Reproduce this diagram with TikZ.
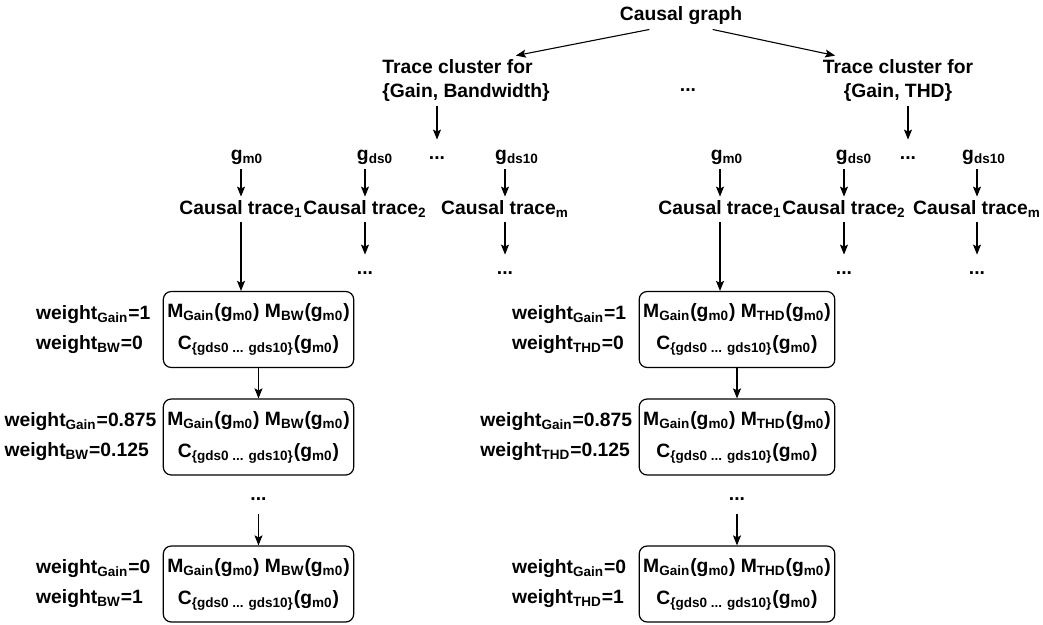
\documentclass[tikz,border=0pt]{standalone}
\usepackage{fontspec}
\setmainfont{Liberation Sans}
\usetikzlibrary{arrows.meta,positioning}
\newcommand{\idx}[1]{\textsubscript{#1}}

\begin{document}
\begin{tikzpicture}[x=0.5pt,y=-0.5pt,
  every node/.style={font=\fontsize{9.65}{12}\selectfont\bfseries, inner sep=2pt},
  lbl/.style={anchor=base},
  more/.style={anchor=base, text height=8pt, text depth=5pt},
  cbox/.style={draw, line width=0.6pt, rounded corners=4pt, minimum width=92.5pt,
    minimum height=38pt, align=center, font=\fontsize{9.65}{16}\selectfont\bfseries},
  wt/.style={align=left, font=\fontsize{9.65}{15}\selectfont\bfseries},
  arr/.style={draw, line width=0.55pt, -{Stealth[length=5pt,width=4pt,inset=1pt]}}]
\useasboundingbox (0,0) rectangle (1043,625);

\node[lbl] (graph) at (681,21) {Causal graph};
\node[align=left, anchor=west] (clusterA) at (378,81) {Trace cluster for\\\{Gain, Bandwidth\}};
\node[align=center] (clusterB) at (898,81) {Trace cluster for\\\{Gain, THD\}};
\node[more] (topdots) at (688,92) {...};

% cluster for gain and bandwidth
\node[lbl] (gmA) at (247,161) {g\idx{m0}};
\node[lbl] (gdsA) at (375,161) {g\idx{ds0}};
\node[more] (gdotsA) at (437,160) {...};
\node[lbl] (gdstenA) at (517,161) {g\idx{ds10}};
\node[lbl] (traceA1) at (241,215) {Causal trace\idx{1}};
\node[lbl] (traceA2) at (365,215) {Causal trace\idx{2}};
\node[lbl] (traceAm) at (505,215) {Causal trace\idx{m}};
\node[more] (moreA2) at (365,275) {...};
\node[more] (moreAm) at (505,275) {...};

\node[cbox] (boxA1) at (258.5,329.5) {M\idx{Gain}(g\idx{m0}) M\idx{BW}(g\idx{m0})\\C\idx{\{gds0 ... gds10\}}(g\idx{m0})};
\node[cbox] (boxA2) at (258.5,437) {M\idx{Gain}(g\idx{m0}) M\idx{BW}(g\idx{m0})\\C\idx{\{gds0 ... gds10\}}(g\idx{m0})};
\node[more] (moreA) at (258.5,500) {...};
\node[cbox] (boxA3) at (258.5,584) {M\idx{Gain}(g\idx{m0}) M\idx{BW}(g\idx{m0})\\C\idx{\{gds0 ... gds10\}}(g\idx{m0})};

\node[wt, left=4pt of boxA1] (wA1) {weight\idx{Gain}=1\\weight\idx{BW}=0};
\node[wt, left=1pt of boxA2] (wA2) {weight\idx{Gain}=0.875\\weight\idx{BW}=0.125};
\node[wt, left=4pt of boxA3] (wA3) {weight\idx{Gain}=0\\weight\idx{BW}=1};

% cluster for gain and THD
\node[lbl] (gmB) at (727,161) {g\idx{m0}};
\node[lbl] (gdsB) at (854,161) {g\idx{ds0}};
\node[more] (gdotsB) at (908,160) {...};
\node[lbl] (gdstenB) at (984,161) {g\idx{ds10}};
\node[lbl] (traceB1) at (720,215) {Causal trace\idx{1}};
\node[lbl] (traceB2) at (844,215) {Causal trace\idx{2}};
\node[lbl] (traceBm) at (977,215) {Causal trace\idx{m}};
\node[more] (moreB2) at (844,275) {...};
\node[more] (moreBm) at (977,275) {...};

\node[cbox] (boxB1) at (737,329.5) {M\idx{Gain}(g\idx{m0}) M\idx{THD}(g\idx{m0})\\C\idx{\{gds0 ... gds10\}}(g\idx{m0})};
\node[cbox] (boxB2) at (737,437) {M\idx{Gain}(g\idx{m0}) M\idx{THD}(g\idx{m0})\\C\idx{\{gds0 ... gds10\}}(g\idx{m0})};
\node[more] (moreB) at (737,500) {...};
\node[cbox] (boxB3) at (737,584) {M\idx{Gain}(g\idx{m0}) M\idx{THD}(g\idx{m0})\\C\idx{\{gds0 ... gds10\}}(g\idx{m0})};

\node[wt, left=4pt of boxB1] (wB1) {weight\idx{Gain}=1\\weight\idx{THD}=0};
\node[wt, left=1pt of boxB2] (wB2) {weight\idx{Gain}=0.875\\weight\idx{THD}=0.125};
\node[wt, left=4pt of boxB3] (wB3) {weight\idx{Gain}=0\\weight\idx{THD}=1};

\path[arr] (graph.203) -- (clusterA.27);
\path[arr] (graph.337) -- (clusterB.158);

\path[arr] (clusterA.south -| gdotsA.north) -- (gdotsA.north);
\path[arr] (gmA.south -| traceA1.north) -- (traceA1.north);
\path[arr] (gdsA.south -| traceA2.north) -- (traceA2.north);
\path[arr] (gdstenA.south -| traceAm.north) -- (traceAm.north);
\path[arr] (traceA2.south) -- (moreA2.north);
\path[arr] (traceAm.south) -- (moreAm.north);
\path[arr] (traceA1.south) -- (traceA1.south |- boxA1.north);
\path[arr] (boxA1) -- (boxA2);
\path[arr] (moreA) -- (boxA3);

\path[arr] (clusterB.south -| gdotsB.north) -- (gdotsB.north);
\path[arr] (gmB.south -| traceB1.north) -- (traceB1.north);
\path[arr] (gdsB.south -| traceB2.north) -- (traceB2.north);
\path[arr] (gdstenB.south -| traceBm.north) -- (traceBm.north);
\path[arr] (traceB2.south) -- (moreB2.north);
\path[arr] (traceBm.south) -- (moreBm.north);
\path[arr] (traceB1.south) -- (traceB1.south |- boxB1.north);
\path[arr] (boxB1) -- (boxB2);
\path[arr] (moreB) -- (boxB3);
\end{tikzpicture}
\end{document}
